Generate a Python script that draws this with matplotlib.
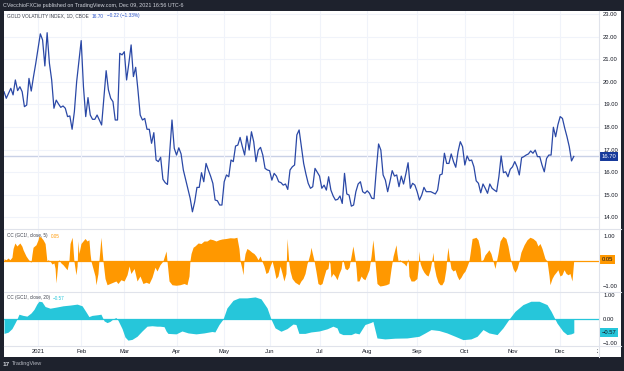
import matplotlib
matplotlib.use('Agg')
import matplotlib.pyplot as plt
import matplotlib.transforms as mtransforms
from matplotlib.patches import Rectangle
from matplotlib.lines import Line2D

plt.rcParams['font.family'] = ['Liberation Sans', 'DejaVu Sans']

# ---------------- data (x = trading-day bar index from chart start) ----------------
month_ticks = [15, 34, 53, 76, 97, 117, 139, 160, 182, 203, 224, 245]
month_labels = ['2021', 'Feb', 'Mar', 'Apr', 'May', 'Jun', 'Jul', 'Aug', 'Sep', 'Oct', 'Nov', 'Dec']
next_year_tick = 264
next_year_label = '2022'

gvz_bar = [0, 1, 3, 4, 5, 6, 7, 8, 9, 10, 11, 12, 13, 14, 15, 16, 17, 18, 19, 20,
           21, 22, 23, 24, 25, 26, 27, 28, 29, 30, 31, 32, 34, 35, 36, 37, 38, 39, 40, 41,
           42, 43, 44, 45, 46, 47, 48, 49, 50, 51, 52, 53, 54, 55, 56, 57, 58, 59, 60, 61,
           62, 63, 64, 65, 66, 67, 68, 69, 70, 71, 72, 73, 74, 75, 76, 77, 78, 79, 80, 81,
           82, 83, 84, 85, 86, 87, 88, 89, 90, 91, 92, 93, 94, 95, 96, 97, 98, 99, 100, 101,
           102, 103, 104, 105, 106, 107, 108, 109, 110, 111, 112, 113, 114, 115, 116, 117, 118, 119, 120, 121,
           122, 123, 124, 125, 126, 127, 128, 129, 130, 131, 132, 133, 134, 135, 136, 137, 139, 140, 141, 142,
           143, 144, 145, 146, 147, 148, 149, 150, 151, 152, 153, 154, 155, 156, 157, 158, 159, 160, 161, 162,
           163, 164, 165, 166, 167, 168, 169, 170, 171, 172, 173, 174, 175, 176, 177, 178, 179, 180, 181, 182,
           183, 184, 185, 186, 187, 188, 189, 190, 191, 192, 193, 194, 195, 196, 197, 198, 199, 200, 201, 202,
           203, 204, 205, 206, 207, 208, 209, 210, 211, 212, 213, 214, 215, 216, 217, 218, 219, 220, 221, 222,
           223, 224, 225, 226, 227, 228, 229, 230, 231, 232, 233, 234, 235, 236, 237, 238, 239, 240, 241, 242,
           243, 244, 245, 246, 247, 248, 249, 250, 251]
gvz_val = [19.56, 19.27, 19.71, 19.42, 20.08, 19.61, 19.78, 19.56, 18.90, 18.97, 20.15, 19.59, 20.23, 20.82, 21.48, 22.12, 21.85, 20.70, 22.17, 20.82,
           20.08, 18.83, 19.19, 19.02, 18.87, 18.93, 18.83, 18.46, 18.49, 17.90, 18.68, 20.00, 21.82, 19.78, 18.46, 19.30, 18.53, 18.34, 18.34, 18.53,
           18.31, 18.09, 19.27, 20.49, 19.64, 19.27, 19.12, 18.31, 18.31, 21.26, 21.19, 21.33, 20.08, 20.82, 21.63, 20.23, 20.64, 19.64, 18.53, 18.31,
           18.38, 17.90, 17.90, 17.28, 17.75, 16.54, 16.47, 16.66, 15.69, 15.54, 15.46, 16.91, 18.31, 17.06, 16.76, 17.08, 16.81, 16.10, 15.69, 15.29,
           14.85, 14.25, 14.69, 15.33, 15.33, 15.98, 15.58, 16.39, 16.10, 15.83, 15.51, 14.77, 14.74, 14.55, 14.55, 15.58, 15.88, 15.80, 16.54, 16.47,
           17.16, 17.20, 17.54, 17.13, 16.76, 17.60, 16.98, 17.79, 17.35, 16.47, 16.98, 17.10, 16.76, 16.17, 16.10, 16.07, 15.65, 15.95, 15.83, 15.58,
           15.54, 15.43, 15.48, 15.24, 16.10, 16.24, 16.32, 17.65, 17.87, 17.13, 16.39, 15.92, 15.51, 15.29, 15.36, 16.17, 15.83, 15.29, 15.43, 15.21,
           15.80, 15.21, 14.95, 14.77, 14.80, 14.95, 14.62, 15.95, 15.04, 14.99, 14.50, 14.55, 15.14, 15.48, 15.58, 15.14, 15.07, 15.18, 15.07, 14.85,
           14.83, 16.10, 17.25, 16.98, 15.88, 15.65, 15.14, 15.58, 16.07, 15.83, 15.88, 15.36, 15.83, 15.48, 15.92, 16.42, 15.29, 15.51, 15.43, 15.14,
           14.77, 14.99, 15.33, 15.14, 15.14, 15.14, 15.09, 15.04, 15.21, 15.88, 15.92, 16.84, 16.39, 16.39, 16.81, 16.47, 16.22, 16.91, 17.35, 17.13,
           16.32, 16.72, 16.51, 16.54, 16.24, 15.62, 15.51, 15.09, 15.48, 15.29, 15.07, 15.48, 15.29, 15.21, 15.14, 15.80, 16.72, 15.98, 16.02, 15.80,
           16.13, 16.24, 16.47, 16.24, 15.88, 16.64, 16.69, 16.76, 16.81, 16.94, 16.84, 16.98, 16.69, 16.69, 16.32, 16.02, 16.61, 16.76, 16.76, 17.99,
           17.57, 18.10, 18.46, 18.38, 17.95, 17.57, 17.13, 16.50, 16.70]

cc5_bar = [0, 0.9, 1.8, 2.6, 3.5, 4.0, 4.8, 5.7, 6.2, 7.0, 7.9, 8.4, 9.7, 10.6, 11.5, 11.9, 12.3, 12.8, 14.1, 15.0,
           15.4, 16.3, 17.2, 18.1, 18.9, 19.4, 20.3, 21.1, 22.0, 22.5, 22.9, 23.8, 24.2, 25.1, 26.0, 26.9, 27.8, 28.6, 29.1, 30.0,
           30.4, 30.8, 31.7, 32.2, 32.6, 33.0, 33.9, 34.8, 35.7, 36.6, 37.4, 37.9, 38.3, 39.2, 40.1, 40.5, 41.4, 41.8, 42.3, 42.7,
           43.2, 43.6, 44.5, 45.4, 46.7, 48.0, 49.3, 50.2, 51.5, 52.9, 54.2, 55.1, 55.9, 57.3, 58.6, 59.9, 61.2, 62.6, 63.9, 65.2,
           66.5, 67.4, 68.7, 70.0, 71.4, 71.8, 72.7, 74.0, 75.8, 77.5, 79.3, 80.6, 81.5, 81.9, 82.4, 83.3, 84.1, 85.5, 86.8, 88.1,
           89.4, 90.7, 92.1, 93.4, 94.7, 96.0, 97.8, 99.6, 101.3, 102.6, 103.5, 104.0, 104.8, 105.3, 105.7, 106.2, 107.0, 107.9, 109.2, 110.1,
           111.0, 111.9, 112.8, 113.6, 114.5, 115.4, 116.3, 117.2, 118.1, 118.9, 119.8, 120.7, 121.6, 122.5, 123.3, 124.2, 124.7, 125.1, 125.5,
           126.0, 126.9, 128.2, 129.1, 129.9, 130.8, 131.7, 132.6, 133.5, 133.9, 134.8, 135.2, 136.1, 136.6, 137.4, 138.3, 139.2, 140.1, 141.0, 141.8,
           142.7, 143.2, 143.6, 144.0, 144.9, 145.8, 146.7, 147.6, 148.5, 148.9, 149.3, 150.2, 151.1, 152.0, 152.9, 153.7, 154.6, 155.1, 155.5, 156.4,
           157.3, 158.1, 159.0, 159.9, 160.8, 161.7, 162.5, 163.0, 163.4, 164.3, 165.6, 166.9, 168.3, 169.6, 170.5, 171.4, 172.7, 173.1, 173.6, 174.4,
           175.3, 176.2, 177.1, 178.0, 178.4, 179.3, 180.6, 181.9, 182.4, 182.8, 183.3, 184.1, 185.0, 185.9, 186.8, 187.7, 188.5, 189.0, 189.4, 190.3,
           191.2, 192.1, 192.9, 193.8, 194.7, 195.1, 195.6, 196.0, 196.9, 197.8, 198.7, 199.6, 200.4, 201.3, 202.2, 203.1, 204.0, 204.8, 205.3, 206.2,
           207.0, 207.9, 208.8, 209.7, 210.1, 211.0, 211.9, 212.8, 213.6, 214.5, 215.4, 216.3, 216.7, 217.6, 218.5, 219.8, 221.1, 222.0, 222.9, 223.3,
           224.2, 225.1, 226.0, 226.9, 227.7, 229.1, 230.4, 231.7, 233.0, 234.3, 235.2, 236.1, 237.0, 238.3, 239.2, 240.1, 240.5, 241.4, 242.3, 243.2,
           244.0, 244.9, 245.8, 246.7, 247.6, 248.5, 249.3, 250.2, 251.0]
cc5_val = [0.09, 0.05, 0.12, 0.05, 0.15, 0.50, 0.72, 0.60, 0.65, 0.72, 0.59, 0.45, 0.20, 0.08, -0.02, -0.05, 0.25, 0.55, 0.65, 0.85,
           1.00, 0.95, 0.85, 0.70, 0.00, 0.05, 0.00, -0.12, -0.08, -0.30, -0.88, 0.00, 0.05, -0.08, -0.15, -0.25, -0.35, 0.00, 0.70, 0.95,
           0.50, 0.00, -0.55, -0.20, 0.80, 0.30, 0.70, 0.80, 0.90, 0.80, 0.85, 0.30, 0.00, -0.30, -0.60, -0.95, -0.50, 0.00, 0.50, 0.95,
           0.40, 0.00, -0.70, -0.95, -0.90, -0.85, -0.80, -0.90, -0.75, -0.80, -0.55, -0.20, -0.50, -0.30, -0.80, -0.60, -0.90, -0.85, -0.90, -0.65,
           -0.25, -0.40, -0.15, 0.00, 0.40, 0.00, -0.80, -0.95, -0.97, -0.95, -0.90, -0.95, -0.60, 0.00, 0.30, 0.55, 0.60, 0.72, 0.70, 0.80,
           0.80, 0.88, 0.85, 0.80, 0.85, 0.88, 0.90, 0.93, 0.92, 0.95, 0.50, 0.00, -0.30, -0.55, 0.00, 0.30, 0.50, 0.45, 0.35, 0.30,
           0.20, 0.05, 0.20, 0.00, -0.20, -0.50, -0.45, -0.20, 0.00, -0.30, -0.70, -0.60, -0.20, -0.50, -0.80, -0.50, 0.90, 0.40, -0.10,
           -0.40, -0.70, -0.85, -0.90, -0.95, -0.80, -0.70, -0.50, -0.10, 0.00, 0.30, 0.55, 0.20, 0.00, -0.40, -0.90, -0.95, -0.90, -0.60, -0.35,
           -0.30, 0.00, -0.10, -0.65, -0.50, -0.60, -0.75, -0.50, -0.30, 0.00, 0.05, -0.30, -0.35, -0.25, 0.20, 0.60, 0.10, -0.30, -0.80, -0.80,
           -0.60, -0.70, -0.75, -0.55, -0.35, 0.20, 0.85, 0.40, 0.00, -0.90, -1.00, -0.98, -0.95, -0.90, -0.30, 0.20, 0.65, 0.30, 0.00, 0.05,
           -0.05, -0.10, -0.20, 0.10, -0.60, -0.80, -0.80, -0.70, -0.30, 0.40, -0.10, -0.30, -0.45, -0.55, -0.60, -0.35, 0.05, 0.35, -0.20, -0.60,
           -0.85, -0.95, -0.95, -0.80, -0.30, 0.20, 0.55, 0.20, -0.30, -0.40, -0.35, -0.60, -0.75, -0.65, -0.50, -0.40, -0.20, 0.00, 0.30, 0.90,
           0.92, 0.95, 0.85, 0.50, 0.00, 0.05, 0.25, 0.35, 0.45, 0.30, 0.00, -0.30, -0.10, 0.30, 0.80, 0.99, 0.90, 0.60, 0.15, 0.00,
           -0.30, -0.45, -0.30, 0.00, 0.35, 0.65, 0.85, 0.95, 0.90, 0.80, 0.60, 0.70, 0.50, 0.10, 0.00, -0.60, -0.95, -0.70, -0.55, -0.45,
           -0.35, -0.60, -0.55, -0.35, -0.50, -0.55, -0.50, -0.80, 0.05]

cc20_bar = [0, 1.8, 3.5, 4.8, 5.7, 6.6, 8.4, 10.1, 11.9, 13.2, 14.5, 15.4, 16.7, 18.1, 20.3, 23.3, 26.0, 29.1, 32.2, 34.4,
            36.1, 37.4, 38.8, 41.4, 42.7, 44.1, 45.4, 46.7, 48.0, 49.3, 50.2, 52.0, 53.3, 54.6, 56.4, 58.6, 60.8, 63.0, 65.2, 67.4,
            68.7, 70.5, 71.4, 72.2, 75.8, 78.4, 81.1, 84.6, 88.1, 91.6, 92.9, 94.7, 96.5, 98.2, 100.9, 103.5, 107.0, 110.6, 113.2, 115.9,
            117.6, 119.4, 122.0, 124.7, 127.3, 128.6, 129.9, 132.6, 135.2, 138.8, 142.3, 144.9, 146.7, 147.6, 149.3, 152.9, 154.6, 156.4, 159.0, 161.7,
            162.5, 164.3, 167.8, 172.2, 177.5, 182.8, 185.5, 188.1, 191.6, 195.1, 198.7, 202.2, 205.7, 208.4, 211.0, 213.6, 217.2, 219.8, 222.5, 225.1,
            228.6, 232.1, 235.7, 239.2, 241.0, 243.6, 246.2, 248.0, 249.8, 251.0]
cc20_val = [-0.60, -0.55, -0.40, -0.17, 0.00, 0.20, 0.15, 0.12, 0.25, 0.40, 0.63, 0.74, 0.72, 0.52, 0.45, 0.50, 0.55, 0.58, 0.62, 0.55,
            0.30, 0.10, 0.15, 0.18, 0.20, -0.08, -0.15, -0.10, 0.00, 0.06, -0.05, -0.40, -0.75, -0.88, -0.85, -0.72, -0.50, -0.30, -0.28, -0.30,
            -0.30, -0.32, -0.50, -0.60, -0.62, -0.50, -0.58, -0.62, -0.58, -0.52, -0.54, -0.23, 0.00, 0.46, 0.78, 0.88, 0.88, 0.92, 0.84, 0.46,
            0.00, -0.37, -0.51, -0.40, -0.21, -0.23, -0.60, -0.60, -0.54, -0.50, -0.41, -0.30, -0.37, -0.58, -0.65, -0.65, -0.58, -0.62, -0.23, -0.14,
            -0.10, -0.79, -0.83, -0.80, -0.79, -0.72, -0.58, -0.44, -0.48, -0.58, -0.72, -0.86, -0.83, -0.72, -0.44, -0.58, -0.65, -0.37, 0.00, 0.32,
            0.60, 0.74, 0.74, 0.60, 0.32, -0.17, -0.51, -0.65, -0.62, -0.57]

main_ticks = [14, 15, 16, 17, 18, 19, 20, 21, 22, 23]
osc_ticks_5 = [1.0, -1.0]
osc_ticks_20 = [1.0, 0.0, -1.0]

gvz_last, gvz_chg, gvz_pct = 16.70, -0.22, -1.33
cc5_last, cc20_last = 0.05, -0.57

title_main = 'GOLD VOLATILITY INDEX, 1D, CBOE'
title_cc5 = 'CC (GC1!, close, 5)'
title_cc20 = 'CC (GC1!, close, 20)'
header = 'CVecchioFXCie published on TradingView.com, Dec 09, 2021 16:56 UTC-6'

# ---------------- styling ----------------
W, H = 624, 371
DARK = '#1e222d'
BLUE = '#2a48a6'
ORANGE = '#ff9800'
CYAN = '#26c6da'
GRID = '#f0f3fa'
SEP = '#e0e3eb'
TXT = '#131722'
FS = 4.2

fig = plt.figure(figsize=(W / 100, H / 100), dpi=100, facecolor=DARK)


def box(x0, y0, x1, y1):
    return [x0 / W, 1 - y1 / H, (x1 - x0) / W, (y1 - y0) / H]


def fx(x):
    return x / W


def fy(y):
    return 1 - y / H


fig.patches.append(Rectangle((fx(4), fy(357)), (621 - 4) / W, (357 - 11) / H,
                             transform=fig.transFigure, facecolor='white',
                             edgecolor='none', zorder=-10))

ax1 = fig.add_axes(box(4, 11, 599, 229))
ax2 = fig.add_axes(box(4, 229, 599, 292))
ax3 = fig.add_axes(box(4, 292, 599, 346))

XMAX = 262.1
for ax in (ax1, ax2, ax3):
    ax.set_facecolor('none')
    ax.set_xlim(0, XMAX)
    for s in ax.spines.values():
        s.set_visible(False)
    ax.set_xticks(month_ticks)
    ax.grid(axis='x', color=GRID, lw=0.8, zorder=0)
    ax.yaxis.tick_right()
    ax.tick_params(length=0, labelsize=FS, labelcolor=TXT, pad=3.0)

ax1.set_xticklabels([])
ax2.set_xticklabels([])
ax3.set_xticklabels(month_labels)
ax3.tick_params(axis='x', pad=2.2)

# main pane
ax1.set_ylim(13.49, 23.13)
ax1.set_yticks(main_ticks)
ax1.set_yticklabels([f'{t:.2f}' for t in main_ticks])
ax1.grid(axis='y', color=GRID, lw=0.8, zorder=0)
ax1.axhline(gvz_last, color='#c9d1e6', lw=1.0, zorder=1)
ax1.plot(gvz_bar, gvz_val, color=BLUE, lw=0.9, zorder=3)

# CC 5 pane
ax2.set_ylim(-1.24, 1.28)
ax2.set_yticks(osc_ticks_5)
ax2.set_yticklabels(['1.00', '\u22121.00'])
ax2.fill_between(cc5_bar, cc5_val, 0, color=ORANGE, lw=0, zorder=2)
ax2.axhline(0, color=ORANGE, lw=0.9, zorder=3)

# CC 20 pane
ax3.set_ylim(-1.125, 1.125)
ax3.set_yticks(osc_ticks_20)
ax3.set_yticklabels(['1.00', '0.00', '\u22121.00'])
ax3.fill_between(cc20_bar, cc20_val, 0, color=CYAN, lw=0, zorder=2)
ax3.axhline(0, color=CYAN, lw=0.9, zorder=3)


def tag(ax, val, text, bg, fg):
    tr = mtransforms.blended_transform_factory(ax.transAxes, ax.transData)
    ax.text(1 + 2.5 / 595, val, text, transform=tr, ha='left', va='center',
            fontsize=FS, color=fg, clip_on=False, zorder=10,
            bbox=dict(boxstyle='square,pad=0.35', fc=bg, ec='none'))


def fmt(v):
    return f'{v:.2f}'.replace('-', '\u2212')


tag(ax1, gvz_last, fmt(gvz_last), '#173a9b', 'white')
tag(ax2, cc5_last, fmt(cc5_last), ORANGE, TXT)
tag(ax3, cc20_last, fmt(cc20_last), CYAN, TXT)


# separators
def hline(y, x0=4, x1=621, c=SEP):
    fig.add_artist(Line2D([fx(x0), fx(x1)], [fy(y), fy(y)], transform=fig.transFigure,
                          color=c, lw=0.8))


hline(229)
hline(292)
hline(346)
fig.add_artist(Line2D([fx(599), fx(599)], [fy(11), fy(357)], transform=fig.transFigure,
                      color=SEP, lw=0.8))

# clipped next-year label
t = fig.text(fx(4) + next_year_tick * (595 / XMAX) / W, fy(351.5), next_year_label,
             ha='center', va='center', fontsize=FS, color=TXT)
t.set_clip_box(mtransforms.TransformedBbox(
    mtransforms.Bbox([[0, 0], [fx(598), 1]]), fig.transFigure))
t.set_clip_on(True)


# titles: each segment follows the previous one
def title_line(x, y, segs, fs):
    prev = fig.text(fx(x), fy(y), segs[0][0], fontsize=fs, color=segs[0][1], va='center')
    for txt, col in segs[1:]:
        prev = fig.add_artist(plt.Annotation(txt, xy=(1, 0.5), xycoords=prev,
                                             xytext=(2.2, 0), textcoords='offset points',
                                             fontsize=fs, color=col, va='center'))


title_line(7, 16, [(title_main, '#3b3f4a'), (fmt(gvz_last), '#2d55c8'),
                   (f'{fmt(gvz_chg)} ({fmt(gvz_pct)}%)', '#2d55c8')], 3.4)
title_line(7, 236, [(title_cc5, '#3b3f4a'), (fmt(cc5_last), ORANGE)], 3.3)
title_line(7, 298, [(title_cc20, '#3b3f4a'), (fmt(cc20_last), CYAN)], 3.3)

# header / footer
fig.text(fx(3), fy(5), header, fontsize=3.9, color='#d1d4dc', va='center')
fig.text(fx(3), fy(364), '17', fontsize=4.6, color='#d1d4dc', va='center',
         fontweight='bold')
fig.text(fx(12), fy(364), 'TradingView', fontsize=4.0, color='#b2b5be', va='center')

fig.savefig('out.png', dpi=100, facecolor=DARK)
